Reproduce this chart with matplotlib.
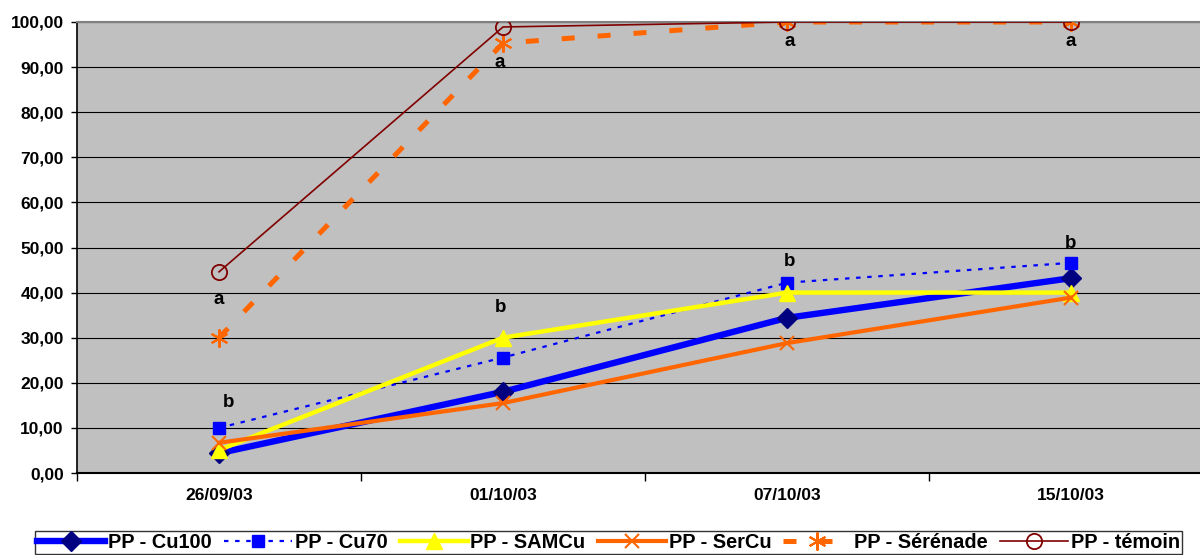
import matplotlib
matplotlib.use("Agg")
import matplotlib.pyplot as plt
from matplotlib.ticker import FuncFormatter, MultipleLocator

plt.rcParams['font.family'] = ['Liberation Sans', 'DejaVu Sans']

dates = ["26/09/03", "01/10/03", "07/10/03", "15/10/03"]

cu100 = [4.4, 18.0, 34.4, 43.2]
cu70 = [10.0, 25.6, 42.2, 46.6]
samcu = [5.1, 30.0, 40.0, 40.0]
sercu = [6.7, 15.5, 28.8, 38.9]
serenade = [30.0, 95.3, 100.0, 100.0]
temoin = [44.6, 98.9, 100.0, 100.0]

series_names = ["PP - Cu100", "PP - Cu70", "PP - SAMCu", "PP - SerCu",
                "PP - Sérénade", "PP - témoin"]

# significance letters: (category index, y value, letter)
letter_x = [0, 0, 1, 1, 2, 2, 3, 3]
letter_y = [38.4, 15.7, 91.0, 36.8, 95.6, 46.8, 95.6, 50.8]
letters = ["a", "b", "a", "b", "a", "b", "a", "b"]
letter_dx = [0.0, 0.035, -0.01, -0.01, 0.01, 0.01, 0.0, 0.0]

W, H = 1200, 555
fig = plt.figure(figsize=(W / 100, H / 100), dpi=100)
ax = fig.add_axes([77 / W, 1 - 473 / H, 1136 / W, 451 / H])
ax.set_facecolor('#C0C0C0')

x = list(range(len(dates)))

ax.plot(x, cu100, color='#0000FF', lw=4.6, marker='D', ms=10,
        mfc='#000080', mec='#000080', zorder=3, label=series_names[0])
ax.plot(x, cu70, color='#0000FF', lw=1.6, ls=(0, (2.0, 3.0)), marker='s', ms=9,
        mfc='#0000FF', mec='#0000FF', zorder=4, label=series_names[1])
ax.plot(x, samcu, color='#FFFF00', lw=3.2, marker='^', ms=11,
        mfc='#FFFF00', mec='#FFFF00', zorder=5, label=series_names[2])
ax.plot(x, sercu, color='#FF6600', lw=3.0, marker='x', ms=10, mew=1.5,
        mfc='#FF6600', mec='#FF6600', zorder=6, label=series_names[3])
ax.plot(x, serenade, color='#FF6600', lw=3.6, ls=(0, (2.6, 4.6)),
        marker=(6, 2, 0), ms=13, mew=1.5, mec='#FF6600', zorder=7,
        label=series_names[4])
ax.plot(x, temoin, color='#800000', lw=1.2, marker='o', ms=11, mfc='none',
        mec='#800000', mew=1.3, zorder=8, label=series_names[5])

for xi, yi, t, dx in zip(letter_x, letter_y, letters, letter_dx):
    ax.text(xi + dx, yi, t, ha='center', va='center', fontsize=13.5,
            fontweight='bold', color='black', zorder=10)

ax.set_xlim(-0.5, len(dates) - 0.5)
ax.set_ylim(0, 100)
ax.yaxis.set_major_locator(MultipleLocator(10))
ax.yaxis.set_major_formatter(FuncFormatter(lambda v, p: f"{v:.2f}".replace('.', ',')))
ax.grid(axis='y', color='black', lw=0.8, zorder=1)
ax.set_axisbelow(True)

ax.set_xticks(x)
ax.set_xticklabels(dates)
ax.set_xticks([i - 0.5 for i in range(len(dates) + 1)], minor=True)
ax.tick_params(axis='x', which='major', length=0, pad=11, labelsize=12.5)
ax.tick_params(axis='x', which='minor', length=6, width=1, direction='out')
ax.tick_params(axis='y', length=4.5, width=1, pad=5, labelsize=12.5)
for lab in ax.get_xticklabels() + ax.get_yticklabels():
    lab.set_fontweight('bold')

ax.spines['left'].set_color('black')
ax.spines['left'].set_linewidth(1.2)
ax.spines['bottom'].set_color('black')
ax.spines['bottom'].set_linewidth(1.5)
ax.spines['top'].set_color('#808080')
ax.spines['top'].set_linewidth(1.5)
ax.spines['right'].set_visible(False)

handles, labels = ax.get_legend_handles_labels()
leg = fig.legend(handles, labels, loc='upper left',
                 bbox_to_anchor=(35 / W, 1 - 531 / H), ncol=6,
                 prop={'weight': 'bold', 'size': 14.4}, frameon=True,
                 fancybox=False, edgecolor='black', handlelength=3.4,
                 handletextpad=0.15, columnspacing=0.6, borderpad=0.1,
                 borderaxespad=0)
leg.get_frame().set_linewidth(1.0)

fig.savefig('out.png', dpi=100)
